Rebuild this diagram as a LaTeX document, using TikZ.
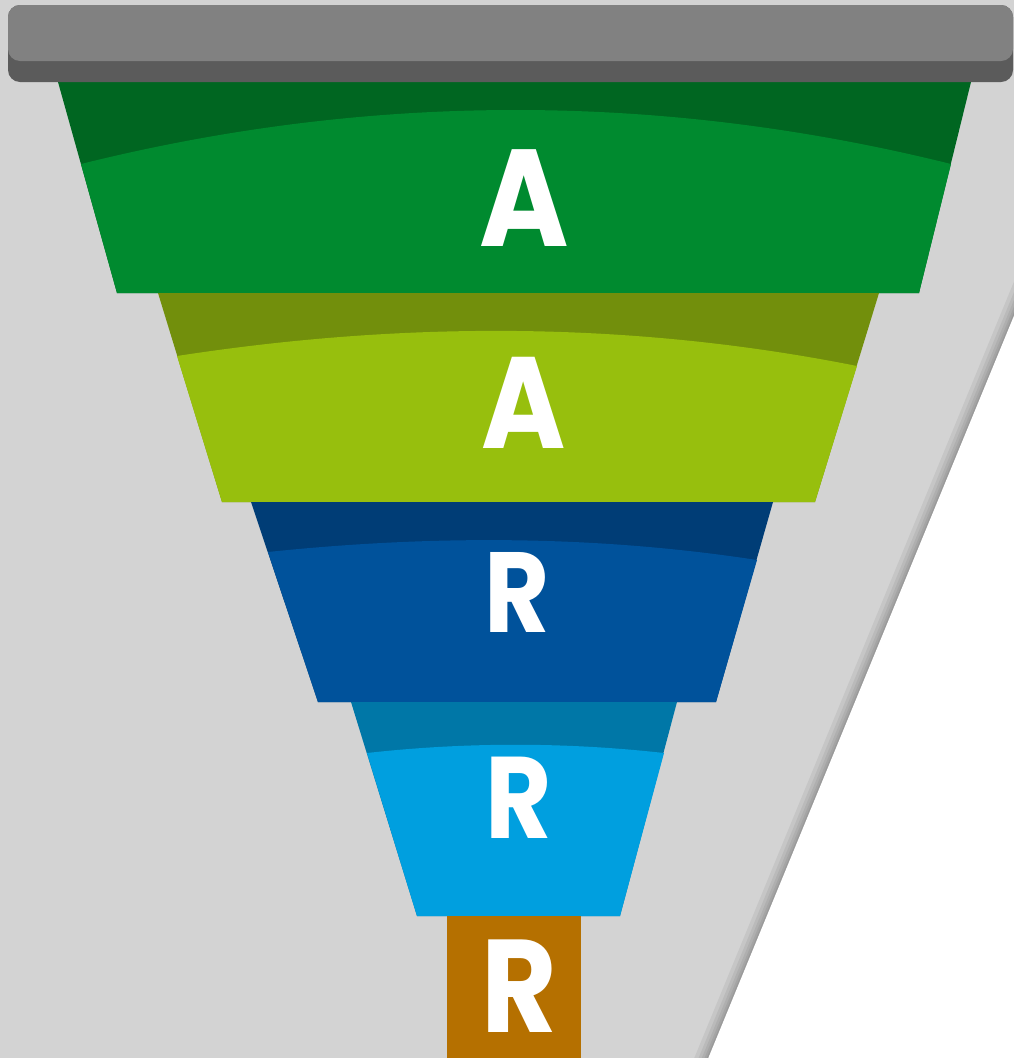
\documentclass[tikz,border=0pt]{standalone}
\usepackage{fontspec}
\newfontfamily\funnelfont[FakeStretch=0.88]{Poppins}
\definecolor{panelgray}{HTML}{D3D3D3}
\definecolor{barlight}{HTML}{818181}
\definecolor{bardark}{HTML}{5B5B5B}
\definecolor{greendark}{HTML}{006621}
\definecolor{greenlight}{HTML}{008A2F}
\definecolor{limedark}{HTML}{728F0C}
\definecolor{limelight}{HTML}{97BF0D}
\definecolor{bluedark}{HTML}{003D76}
\definecolor{bluelight}{HTML}{00529B}
\definecolor{cyandark}{HTML}{0077A7}
\definecolor{cyanlight}{HTML}{009FDF}
\definecolor{ochre}{HTML}{B57000}

\begin{document}
\begin{tikzpicture}[x=1pt,y=-1pt,
  letter/.style={text=white,inner sep=0pt,anchor=base,
    font=\funnelfont\bfseries\fontsize{#1}{#1}\selectfont}]
\useasboundingbox (0,0) rectangle (1014,1058);
\fill[color=panelgray] (0,0) rectangle (1014,1058);
% shadow along the cut edge
\foreach \w in {26,18,12,7,3} \draw[line width=\w pt,black,opacity=0.06] (1144,0) -- (691,1100);
\fill[white] (1144,0) -- (691,1100) -- (1100,1100) -- cycle;
\begin{scope}
\fill[color=greendark] (58,82) -- (971,82) -- (919,293) -- (117,293) -- cycle;
\fill[color=greenlight] (81,164) .. controls (370,92) and (661,92) .. (951,164) -- (919,293) -- (117,293) -- cycle;
\node[letter=138] (a1) at (524,246) {A};
\end{scope}
\begin{scope}
\fill[color=limedark] (158,293) -- (879,293) -- (815,502) -- (222,502) -- cycle;
\fill[color=limelight] (177,356) .. controls (404,321) and (631,321) .. (857,366) -- (815,502) -- (222,502) -- cycle;
\node[letter=130] (a2) at (524,448) {A};
\end{scope}
\begin{scope}
\fill[color=bluedark] (251,502) -- (773,502) -- (716,702) -- (318,702) -- cycle;
\fill[color=bluelight] (268,552) .. controls (431,535) and (594,535) .. (757,560) -- (716,702) -- (318,702) -- cycle;
\node[letter=114] (r1) at (517,632) {R};
\end{scope}
\begin{scope}
\fill[color=cyandark] (351,702) -- (677,702) -- (620,916) -- (417,916) -- cycle;
\fill[color=cyanlight] (367,753) .. controls (466,742) and (565,742) .. (664,753) -- (620,916) -- (417,916) -- cycle;
\node[letter=116] (r2) at (519,838) {R};
\end{scope}
\begin{scope}
\fill[color=ochre] (447,916) rectangle (581,1058);
\node[letter=132] (r3) at (519,1032) {R};
\end{scope}
% top bar
\fill[color=bardark,rounded corners=12pt] (8,5) rectangle (1013,82);
\fill[color=barlight,rounded corners=12pt] (8,5) rectangle (1013,61);
\end{tikzpicture}
\end{document}
